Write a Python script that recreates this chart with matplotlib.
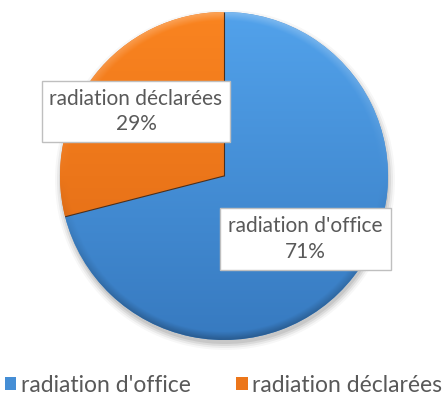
import numpy as np
import matplotlib
matplotlib.use("Agg")
import matplotlib.pyplot as plt
from matplotlib.patches import Circle

categories = ["radiation d'office", "radiation déclarées"]
values = [71, 29]
pct_labels = ["71%", "29%"]

W, H = 447, 403
plt.rcParams['font.family'] = ['Lato', 'DejaVu Sans']
fig = plt.figure(figsize=(W / 100, H / 100), dpi=100)
ax = fig.add_axes([0, 0, 1, 1])

cx, cy, R = 224, H - 176, 164
top_cols = [np.array([82, 162, 235]) / 255, np.array([250, 132, 32]) / 255]
bot_cols = [np.array([55, 122, 192]) / 255, np.array([222, 104, 20]) / 255]
base = [tuple(c) for c in (bot_cols[0] * 0.5 + top_cols[0] * 0.5, bot_cols[1] * 0.5 + top_cols[1] * 0.5)]

# soft shadow
for k, a in [(6, 0.03), (4, 0.05), (2, 0.07), (0, 0.08)]:
    ax.add_patch(Circle((cx + 1, cy - 4), R + k, color='black', alpha=a, lw=0, zorder=0))

wedges, _ = ax.pie(values, colors=base, startangle=90, counterclock=False,
                   center=(cx, cy), radius=R, frame=True,
                   wedgeprops=dict(linewidth=0, zorder=1))

# gradient fill clipped to each wedge
n = 400
xs = np.linspace(-1, 1, n)
X, Y = np.meshgrid(xs, xs)
r = np.sqrt(X ** 2 + Y ** 2)
t = (Y + 1) / 2
for w, tc, bc in zip(wedges, top_cols, bot_cols):
    img = bc[None, None, :] + (tc - bc)[None, None, :] * t[:, :, None]
    rim = np.clip((r - 0.95) / 0.05, 0, 1)
    light = rim * np.clip(Y, 0, 1) * 0.25
    dark = rim * np.clip(-Y, 0, 1) * 0.25
    img = img + (1 - img) * light[:, :, None]
    img = img * (1 - dark[:, :, None])
    img = np.clip(img, 0, 1)
    im = ax.imshow(img, extent=(cx - R, cx + R, cy - R, cy + R), origin='lower',
                   interpolation='bilinear', zorder=2)
    im.set_clip_path(w)

# radial separators between slices
for w in wedges:
    ang = np.deg2rad(w.theta1)
    ax.plot([cx, cx + R * np.cos(ang)], [cy, cy + R * np.sin(ang)],
            color='#4a3020', lw=0.8, zorder=3, solid_capstyle='butt')

# data labels
label_pos = [(305.5, H - 239), (136, H - 111.5)]
for (x, y), cat, p in zip(label_pos, categories, pct_labels):
    ax.text(x, y, f"{cat}\n{p}", ha='center', va='center', fontsize=15,
            color='#595959', linespacing=1.35, zorder=5,
            bbox=dict(boxstyle='square,pad=0.38', facecolor='white',
                      edgecolor='#BFBFBF', linewidth=1.0))

ax.set_xlim(0, W)
ax.set_ylim(0, H)
ax.set_aspect('equal')
ax.axis('off')

leg = fig.legend(handles=wedges, labels=categories, loc='center',
                 bbox_to_anchor=(0.5, 1 - 385 / H), ncol=2, frameon=False,
                 fontsize=16.5, handlelength=0.5, handleheight=0.5,
                 handletextpad=0.2, columnspacing=2.0, labelcolor='#595959')

fig.savefig('out.png', dpi=100)
